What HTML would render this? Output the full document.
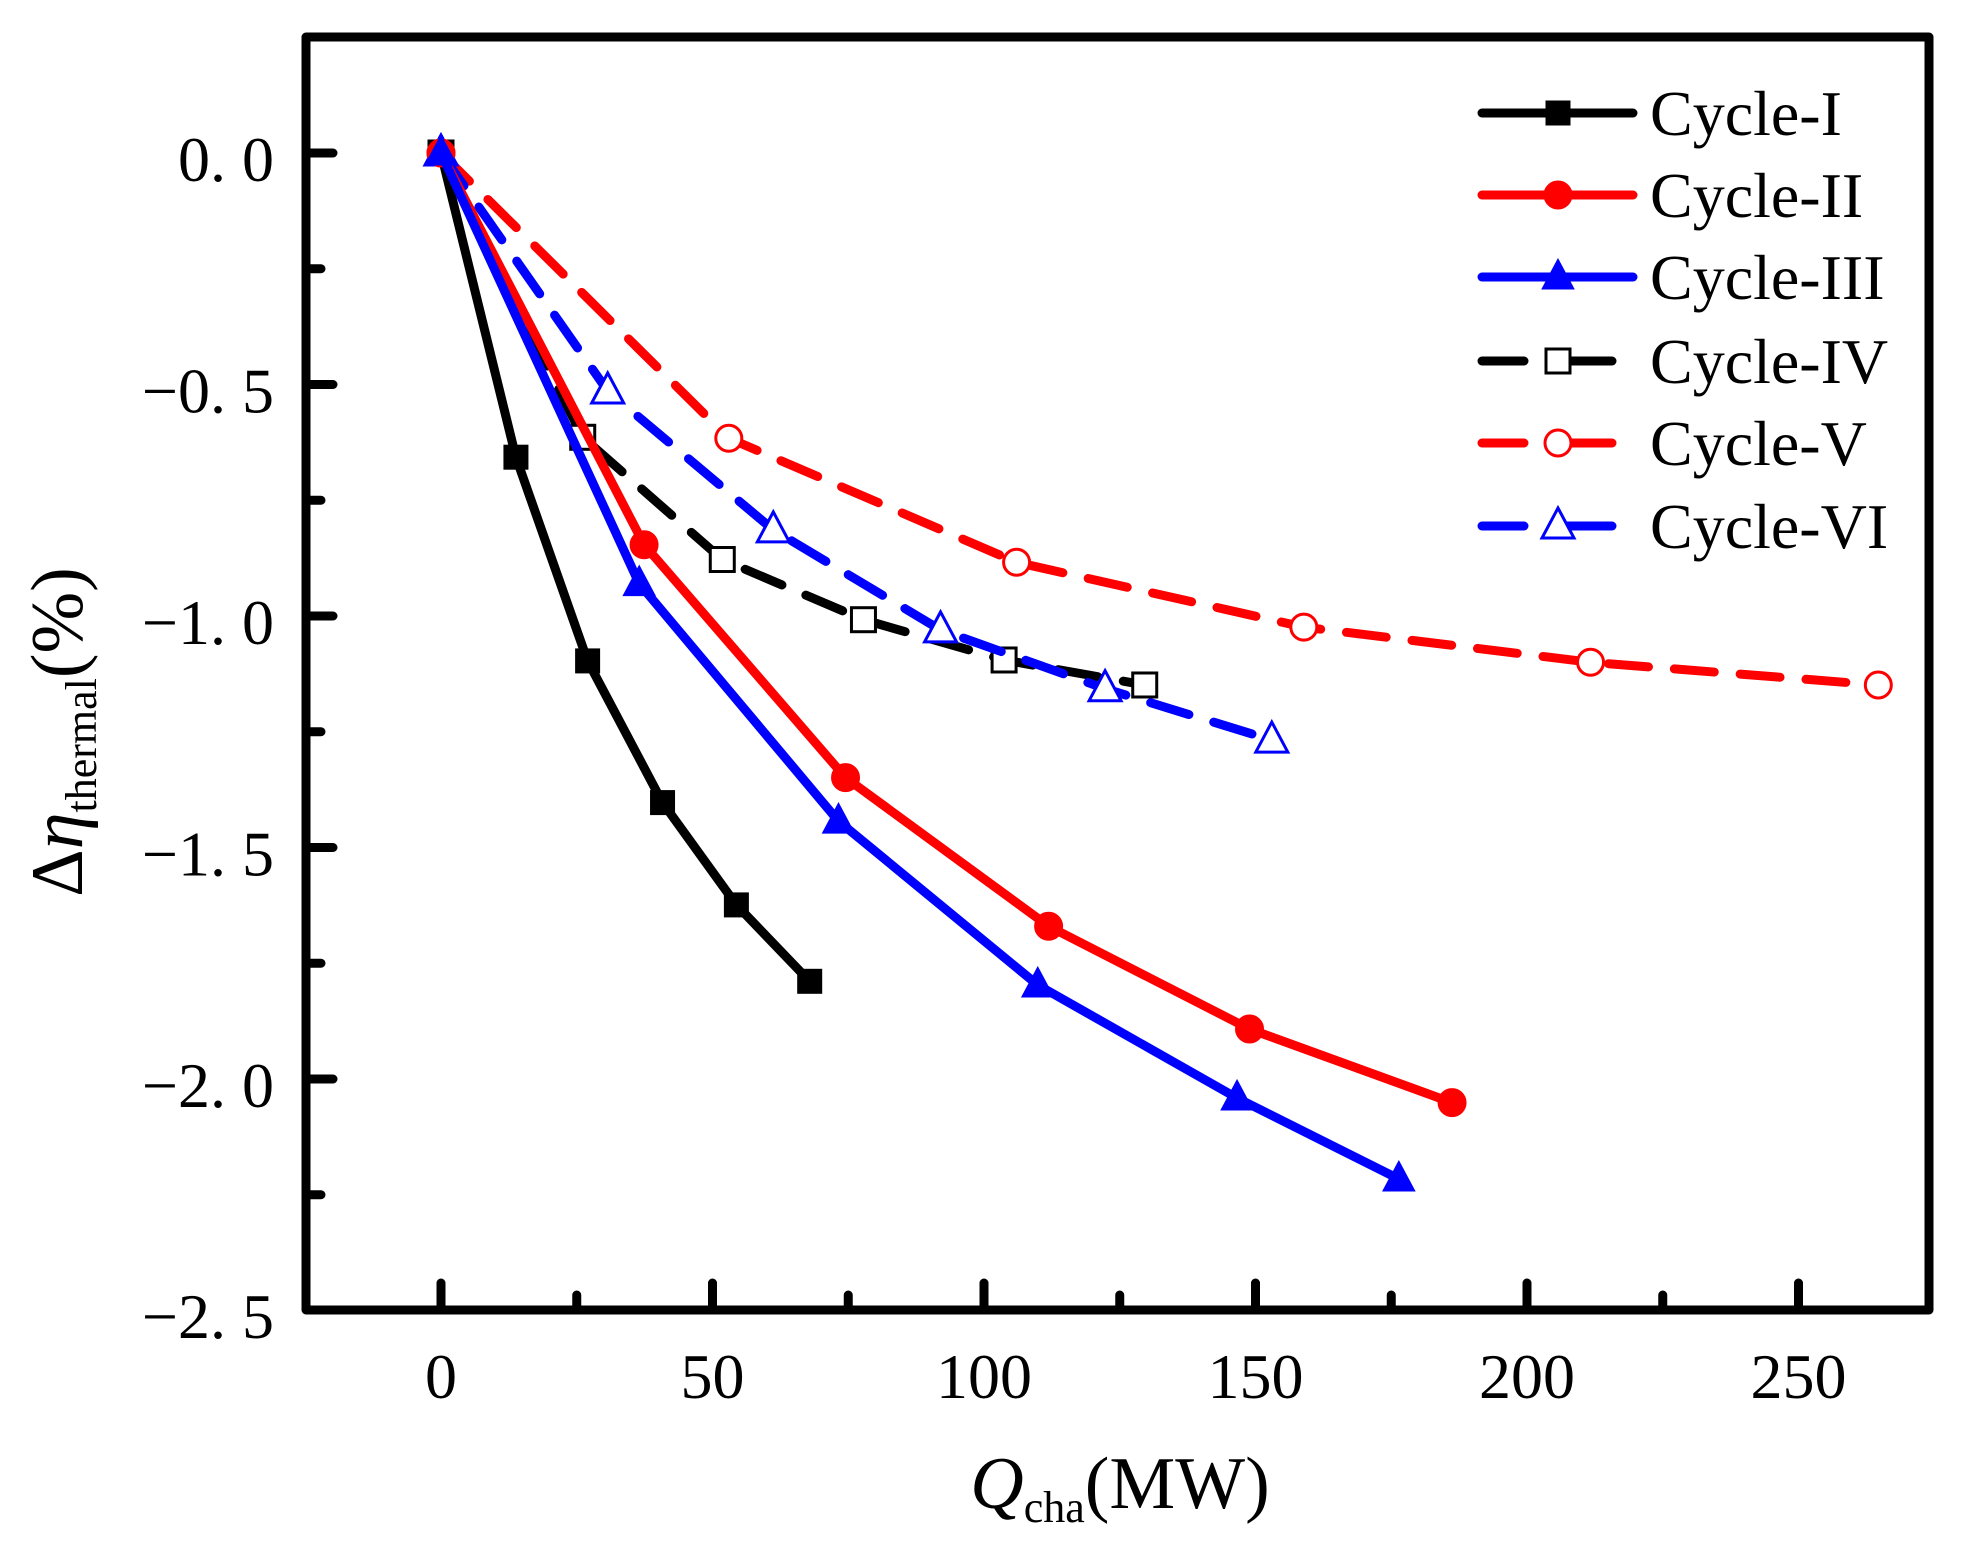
<!DOCTYPE html>
<html><head><meta charset="utf-8">
<style>
html,body{margin:0;padding:0;background:#fff;}
svg{display:block;}
text{font-family:"Liberation Serif","DejaVu Serif",serif;fill:#000;}
</style></head>
<body>
<svg id="chart" width="1963" height="1545" viewBox="0 0 1963 1545" xmlns="http://www.w3.org/2000/svg">
<g id="marks"></g>
<rect x="306" y="37" width="1623" height="1273" fill="none" stroke="#000" stroke-width="9" stroke-linejoin="round"/>
<g id="ticks"></g>
<text x="1120" y="1508" font-size="74" text-anchor="middle"><tspan font-style="italic">Q</tspan><tspan font-size="44" dy="14">cha</tspan><tspan dy="-14">(MW)</tspan></text>
<text transform="translate(82,732) rotate(-90)" font-size="74" text-anchor="middle">Δ<tspan font-style="italic">η</tspan><tspan font-size="44" dy="14">thermal</tspan><tspan dy="-14">(%)</tspan></text>
<g id="legend"></g>
</svg>
<script>
const xTicks=[0,50,100,150,200,250];
const yTicks=[0,-0.5,-1.0,-1.5,-2.0,-2.5];
const yTickLabels=["0. 0","−0. 5","−1. 0","−1. 5","−2. 0","−2. 5"];
const seriesNames=["Cycle-I","Cycle-II","Cycle-III","Cycle-IV","Cycle-V","Cycle-VI"];
const x1=[0,13.8,27,40.8,54.4,67.9];
const y1=[0,-0.657,-1.097,-1.403,-1.624,-1.789];
const x2=[0,37.4,74.5,111.9,148.9,186.2];
const y2=[0,-0.846,-1.349,-1.670,-1.892,-2.051];
const x3=[0,36.5,73.2,109.9,146.6,176.4];
const y3=[0,-0.93,-1.443,-1.797,-2.041,-2.216];
const x4=[0,26.1,51.8,77.8,103.7,129.6];
const y4=[0,-0.614,-0.878,-1.008,-1.095,-1.149];
const x5=[0,53,106,158.9,211.7,264.7];
const y5=[0,-0.616,-0.884,-1.024,-1.1,-1.149];
const x6=[0,30.7,61.2,92,122.3,153];
const y6=[0,-0.514,-0.814,-1.03,-1.157,-1.268];

const NS="http://www.w3.org/2000/svg";
const X=v=>441+v*5.43;
const Y=v=>153-v*463;
const BOT=1310;
function mk(tag,attrs,parent){const e=document.createElementNS(NS,tag);for(const k in attrs)e.setAttribute(k,attrs[k]);parent.appendChild(e);return e;}

const ticks=document.getElementById('ticks');
for(let v=-25;v<=275;v+=25){
  if(v<-20||X(v)>1920)continue;
  const major=v%50===0;
  const t=mk('line',{x1:X(v),x2:X(v),y1:BOT,y2:BOT-(major?27:15),stroke:'#000','stroke-width':9,'stroke-linecap':'round'},ticks);
  
  
}
xTicks.forEach(v=>{
  const t=mk('text',{x:X(v),y:1398,'font-size':64,'text-anchor':'middle'},ticks);
  t.textContent=String(v);
  
  
});
for(let v=0.25;v>=-2.5;v-=0.25){
  const major=Math.abs(Math.round(v*2)-v*2)<1e-6;
  if(Y(v)<45||Y(v)>BOT-5)continue;
  const t=mk('line',{x1:306,x2:306+(major?27:15),y1:Y(v),y2:Y(v),stroke:'#000','stroke-width':9,'stroke-linecap':'round'},ticks);
  
  
}
yTicks.forEach((v,i)=>{
  const t=mk('text',{x:274,y:Math.min(Y(v),BOT)+28,'font-size':64,'text-anchor':'end'},ticks);
  t.textContent=yTickLabels[i];
  
  
});

const styles=[
 {xs:x1,ys:y1,c:'#000',dash:null,m:'square',fill:true},
 {xs:x2,ys:y2,c:'#ff0000',dash:null,m:'circle',fill:true},
 {xs:x3,ys:y3,c:'#0000ff',dash:null,m:'triangle',fill:true},
 {xs:x4,ys:y4,c:'#000',dash:'40 26',m:'square',fill:false},
 {xs:x5,ys:y5,c:'#ff0000',dash:'40 26',m:'circle',fill:false},
 {xs:x6,ys:y6,c:'#0000ff',dash:'40 26',m:'triangle',fill:false}
];
function marker(g,m,cx,cy,c,fill){
  let e;
  if(m==='square')e=mk('rect',{x:cx-12,y:cy-12,width:24,height:24},g);
  else if(m==='circle')e=mk('circle',{cx:cx,cy:cy,r:fill?14:13},g);
  else e=mk('polygon',{points:`${cx},${cy-18} ${cx-16},${cy+12} ${cx+16},${cy+12}`},g);
  e.setAttribute('fill',fill?c:'#fff');
  e.setAttribute('stroke',c);
  e.setAttribute('stroke-width',fill?1:3);
  return e;
}
const marks=document.getElementById('marks');
const order=[3,4,5,0,1,2];
order.forEach(i=>{
  const s=styles[i];
  const g=mk('g',{},marks);
  
  
  const pts=s.xs.map((v,j)=>X(v)+','+Y(s.ys[j])).join(' ');
  const a={points:pts,fill:'none',stroke:s.c,'stroke-width':9,'stroke-linecap':'round','stroke-linejoin':'round'};
  if(s.dash)a['stroke-dasharray']=s.dash;
  const pl=mk('polyline',a,g);
  
  
  s.xs.forEach((v,j)=>{
    const e=marker(g,s.m,X(v),Y(s.ys[j]),s.c,s.fill);
    
    
  });
});

const legend=document.getElementById('legend');
const rowsY=[113,195,277,361,443,526];
styles.forEach((s,i)=>{
  const g=mk('g',{},legend);
  
  
  const y=rowsY[i];
  if(s.dash){
    mk('line',{x1:1482,x2:1524,y1:y,y2:y,stroke:s.c,'stroke-width':9,'stroke-linecap':'round'},g);
    mk('line',{x1:1564,x2:1612,y1:y,y2:y,stroke:s.c,'stroke-width':9,'stroke-linecap':'round'},g);
  }else{
    mk('line',{x1:1482,x2:1633,y1:y,y2:y,stroke:s.c,'stroke-width':9,'stroke-linecap':'round'},g);
  }
  marker(g,s.m,1558,y,s.c,s.fill);
  const t=mk('text',{x:1650,y:y+22,'font-size':64},g);
  t.textContent=seriesNames[i];
});
</script>
</body></html>
